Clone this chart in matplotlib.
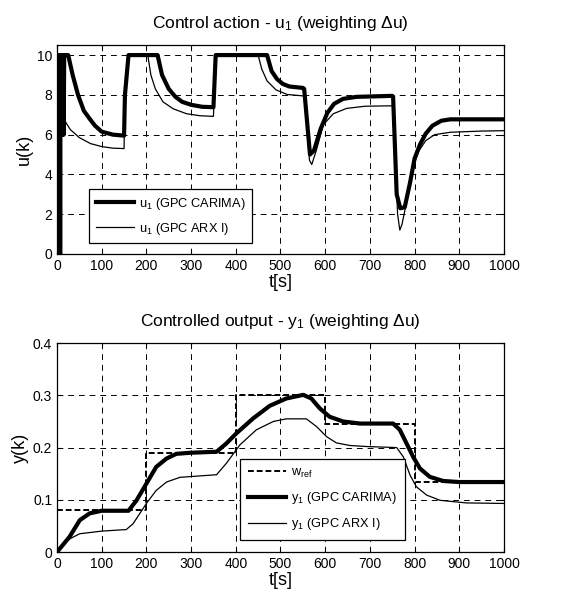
import numpy as np
import matplotlib
matplotlib.use("Agg")
import matplotlib.pyplot as plt

plt.rcParams['font.family'] = ['Liberation Sans', 'DejaVu Sans']
plt.rcParams['mathtext.default'] = 'regular'

# ---- control action u1
t_u_carima = [0, 0.7, 1.4, 2.1, 2.8, 3.5, 4.2, 4.9, 5.6, 6.3, 7, 7.7, 8.4, 9.1, 9.8, 10.5, 11.2, 12, 13, 14, 15, 16,
              25, 35, 47, 60, 73, 85, 100, 125, 150,
              152, 160, 225, 235, 250, 265, 280, 300, 325, 350,
              355, 470, 480, 492, 505, 520, 550,
              553, 566, 575, 590, 605, 620, 640, 670, 750,
              752, 760, 768, 778, 790, 800, 812, 825, 840, 860, 880, 1000]
u_carima = [0, 10, 0, 10, 0, 10, 0, 10, 0, 10, 0, 10, 6, 10, 6, 10, 6, 10, 6, 10, 6, 10,
            10, 9.0, 8.0, 7.2, 6.8, 6.45, 6.15, 6.0, 5.95,
            8.0, 10, 10, 9.0, 8.3, 7.9, 7.65, 7.5, 7.4, 7.38,
            10, 10, 9.2, 8.8, 8.55, 8.42, 8.35,
            8.3, 5.0, 5.2, 6.3, 7.1, 7.55, 7.8, 7.9, 7.95,
            7.9, 3.0, 2.3, 2.35, 3.6, 4.8, 5.5, 6.05, 6.45, 6.7, 6.77, 6.77]

t_u_arx = [0, 3, 10, 13, 20, 30, 50, 75, 100, 125, 150,
           152, 160, 203, 210, 220, 237, 260, 290, 320, 350,
           355, 450, 458, 470, 490, 515, 550,
           553, 565, 570, 580, 596, 618, 648, 690, 750,
           752, 762, 767, 772, 782, 797, 810, 825, 845, 880, 950, 1000]
u_arx = [0, 10, 10, 7.0, 6.6, 6.25, 5.85, 5.55, 5.4, 5.32, 5.3,
         8.0, 10, 10, 9.0, 8.3, 7.65, 7.3, 7.05, 6.95, 6.92,
         10, 10, 9.3, 8.7, 8.25, 8.02, 7.95,
         7.9, 4.7, 4.5, 5.2, 6.5, 7.05, 7.32, 7.43, 7.45,
         7.4, 2.0, 1.2, 1.5, 2.6, 4.4, 5.2, 5.7, 6.0, 6.12, 6.18, 6.2]

# ---- controlled output y1
t_ref = [0, 200, 200, 400, 400, 600, 600, 800, 800, 1000]
w_ref = [0.08, 0.08, 0.19, 0.19, 0.30, 0.30, 0.245, 0.245, 0.135, 0.135]

t_y_carima = [0, 28, 51, 73, 100, 160, 178, 200, 222, 245, 267, 297, 357,
              379, 401, 439, 476, 513, 551, 569, 588, 610, 640, 678, 752,
              767, 782, 797, 812, 834, 864, 900, 1000]
y_carima = [0, 0.029, 0.061, 0.074, 0.079, 0.079, 0.099, 0.131, 0.163, 0.179, 0.188, 0.190, 0.192,
            0.208, 0.227, 0.256, 0.280, 0.294, 0.301, 0.294, 0.275, 0.259, 0.250, 0.246, 0.246,
            0.234, 0.208, 0.182, 0.160, 0.144, 0.136, 0.134, 0.134]

t_y_arx = [0, 21, 51, 100, 155, 170, 200, 222, 245, 275, 357,
           379, 409, 446, 484, 513, 558, 581, 603, 625, 655, 693, 760,
           775, 790, 804, 827, 857, 916, 1000]
y_arx = [0, 0.022, 0.035, 0.040, 0.043, 0.054, 0.093, 0.118, 0.134, 0.143, 0.148,
         0.170, 0.205, 0.234, 0.250, 0.255, 0.255, 0.240, 0.221, 0.209, 0.204, 0.202, 0.200,
         0.182, 0.147, 0.125, 0.109, 0.099, 0.094, 0.093]

fig = plt.figure(figsize=(5.73, 5.90), dpi=100)
ax1 = fig.add_axes([0.0995, 0.5695, 0.780, 0.354])
ax2 = fig.add_axes([0.0995, 0.0644, 0.780, 0.354])


def style(ax):
    ax.set_xlim(0, 1000)
    ax.set_xticks(np.arange(0, 1001, 100))
    ax.grid(True, color='black', linestyle=(0, (6, 5)), linewidth=0.7)
    ax.tick_params(direction='in', labelsize=10, length=3, top=True, right=True)
    for s in ax.spines.values():
        s.set_linewidth(0.9)
    ax.set_xlabel('t[s]', fontsize=13, labelpad=1)


ax1.plot(t_u_carima, u_carima, color='black', linewidth=3.0, label='u$_1$ (GPC CARIMA)')
ax1.plot(t_u_arx, u_arx, color='black', linewidth=0.9, label='u$_1$ (GPC ARX I)')
style(ax1)
ax1.set_ylim(0, 10.5)
ax1.set_yticks([0, 2, 4, 6, 8, 10])
ax1.set_ylabel('u(k)', fontsize=13, labelpad=3)
ax1.set_title('Control action - u$_1$ (weighting \u0394u)', fontsize=12.5, pad=12)
leg1 = ax1.legend(loc='lower left', bbox_to_anchor=(0.072, 0.053), borderaxespad=0, fontsize=9.2,
                  fancybox=False, edgecolor='black', framealpha=1, handlelength=3.0,
                  handletextpad=0.4, borderpad=0.5, labelspacing=0.7)
leg1.get_frame().set_linewidth(0.9)

ax2.plot(t_ref, w_ref, color='black', linewidth=1.4, linestyle=(0, (3, 1.5)), label='w$_{ref}$')
ax2.plot(t_y_carima, y_carima, color='black', linewidth=3.0, label='y$_1$ (GPC CARIMA)')
ax2.plot(t_y_arx, y_arx, color='black', linewidth=0.9, label='y$_1$ (GPC ARX I)')
style(ax2)
ax2.set_ylim(0, 0.4)
ax2.set_yticks([0, 0.1, 0.2, 0.3, 0.4])
ax2.set_yticklabels(['0', '0.1', '0.2', '0.3', '0.4'])
ax2.set_ylabel('y(k)', fontsize=13, labelpad=3)
ax2.set_title('Controlled output - y$_1$ (weighting \u0394u)', fontsize=12.5, pad=12)
leg2 = ax2.legend(loc='lower left', bbox_to_anchor=(0.41, 0.057), borderaxespad=0, fontsize=9.2,
                  fancybox=False, edgecolor='black', framealpha=1, handlelength=3.0,
                  handletextpad=0.4, borderpad=0.6, labelspacing=0.8)
leg2.get_frame().set_linewidth(0.9)

plt.savefig('out.png', dpi=100)
